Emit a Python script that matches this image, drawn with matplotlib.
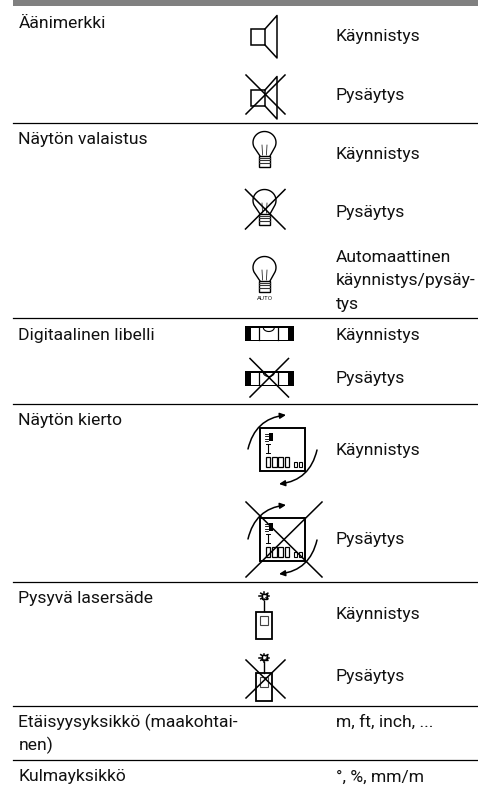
import numpy as np
import matplotlib
matplotlib.use('Agg')
import matplotlib.pyplot as plt
from matplotlib.patches import Rectangle, FancyArrowPatch

plt.rcParams['font.family'] = ['Roboto', 'DejaVu Sans']

left_labels = ['Äänimerkki', 'Näytön valaistus', 'Digitaalinen libelli', 'Näytön kierto',
               'Pysyvä lasersäde', 'Etäisyysyksikkö (maakohtai-', 'nen)', 'Kulmayksikkö']
left_y = [28, 144, 340, 425.5, 603, 727, 750, 781.5]

right_labels = ['Käynnistys', 'Pysäytys', 'Käynnistys', 'Pysäytys', 'Automaattinen',
                'käynnistys/pysäy-', 'tys', 'Käynnistys', 'Pysäytys', 'Käynnistys',
                'Pysäytys', 'Käynnistys', 'Pysäytys', 'm, ft, inch, ...', '°, %, mm/m']
right_y = [41.5, 100, 158.5, 216.5, 261.5, 285, 308.5, 340, 383, 455.5, 544, 619, 681, 727, 781.5]

rule_y = [123, 317.5, 404.3, 582.3, 706, 760]

fig = plt.figure(figsize=[4.78, 7.87], dpi=100)
ax = fig.add_axes([0, 0, 1, 1])
ax.set_xlim(0, 478)
ax.set_ylim(787, 0)
ax.axis('off')

ax.add_patch(Rectangle((13, 0), 465, 5.7, color='#808080', lw=0))
for y in rule_y:
    ax.plot([13, 478], [y, y], color='black', lw=0.9)

for s, y in zip(left_labels, left_y):
    ax.text(18.5, y, s, fontsize=12.6, va='baseline', color='#111111')
for s, y in zip(right_labels, right_y):
    ax.text(336, y, s, fontsize=12.6, va='baseline', color='#111111')


def cross(x0, y0, x1, y1):
    ax.plot([x0, x1], [y0, y1], color='black', lw=1.1)
    ax.plot([x0, x1], [y1, y0], color='black', lw=1.1)


def speaker(dy):
    ax.add_patch(Rectangle((251, 29 + dy), 14, 16, fill=False, ec='black', lw=1.1))
    ax.plot([265, 277, 277, 265], [29 + dy, 15.5 + dy, 58 + dy, 45 + dy], color='black', lw=1.1)


def bulb(dy):
    t = np.linspace(np.radians(205), np.radians(-25), 40)
    xb = 264.5 + 11.5 * np.cos(t)
    yb = 142.5 + dy - 11 * np.sin(t)
    xb = np.concatenate([[260], xb, [270]])
    yb = np.concatenate([[156 + dy], yb, [156 + dy]])
    ax.plot(xb, yb, color='black', lw=1.0)
    ax.plot([262, 262.5], [145 + dy, 155 + dy], color='black', lw=0.5)
    ax.plot([267, 266.5], [145 + dy, 155 + dy], color='black', lw=0.5)
    ax.add_patch(Rectangle((259.5, 156 + dy), 10.5, 11, fill=False, ec='black', lw=1.0))
    for k in [158, 160, 162.5]:
        ax.plot([259.5, 270], [k + dy, k + dy], color='#333333', lw=0.8)


def level(dy):
    ax.add_patch(Rectangle((245, 326 + dy), 49, 15, color='black', lw=0))
    ax.add_patch(Rectangle((251, 327.5 + dy), 37, 12, color='white', lw=0))
    ax.plot([259.5, 259.5], [327 + dy, 340 + dy], color='black', lw=0.9)
    ax.plot([278, 278], [327 + dy, 340 + dy], color='black', lw=0.9)
    t = np.linspace(0, np.pi, 20)
    ax.plot(268.8 + 5.5 * np.cos(t), 327.5 + dy + 4 * np.sin(t), color='black', lw=0.8)


def display(dy):
    ax.add_patch(Rectangle((260.5, 428 + dy), 45, 42.5, fill=False, ec='black', lw=1.4))
    ax.add_patch(Rectangle((269, 433 + dy), 4, 8, color='black', lw=0))
    for k in [433.5, 436, 438.5, 441]:
        ax.plot([265, 268.5], [k + dy, k + dy], color='black', lw=0.6)
    ax.plot([267.7, 267.7], [444 + dy, 453 + dy], color='black', lw=0.8)
    ax.plot([265.7, 269.7], [444 + dy, 444 + dy], color='black', lw=0.7)
    ax.plot([265.7, 269.7], [453 + dy, 453 + dy], color='black', lw=0.7)
    for x in [265.7, 272, 278.3, 284.6]:
        ax.add_patch(Rectangle((x, 456.5 + dy), 4.6, 10.5, fill=False, ec='black', lw=0.9))
    for x in [293.7, 298.7]:
        ax.add_patch(Rectangle((x, 461.5 + dy), 3, 5.5, fill=False, ec='black', lw=0.8))
    for p0, p1 in [((248, 449), (286, 415)), ((317, 450), (279, 484))]:
        ax.add_patch(FancyArrowPatch((p0[0], p0[1] + dy), (p1[0], p1[1] + dy), connectionstyle='arc3,rad=-0.35',
                                     arrowstyle='-|>,head_length=3.5,head_width=1.7', color='black', lw=1.1,
                                     shrinkA=0, shrinkB=0))


def laser(dy):
    xc, yc = 264.3, 596 + dy
    ax.add_patch(Rectangle((xc - 2.5, yc - 2.5), 5, 5, fill=False, ec='black', lw=1.0))
    for a in np.radians(np.arange(0, 360, 45)):
        ax.plot([xc + 2.5 * np.cos(a), xc + 5 * np.cos(a)], [yc + 2.5 * np.sin(a), yc + 4 * np.sin(a)],
                color='black', lw=1.1)
    ax.plot([264, 264], [600.5 + dy, 611 + dy], color='black', lw=1.0)
    ax.add_patch(Rectangle((256.5, 611.5 + dy), 15.5, 27.5, fill=False, ec='black', lw=1.3))
    ax.add_patch(Rectangle((260, 615.7 + dy), 8.3, 9.3, fill=False, ec='#444444', lw=0.8))


speaker(0)
speaker(61)
cross(246, 75, 285, 114)

bulb(0)
bulb(58)
cross(245.5, 189.5, 285, 229)
bulb(125)
ax.text(264.5, 299, 'AUTO', fontsize=4.5, ha='center', va='center', color='#222222')

level(0)
level(45)
cross(250, 358.5, 288.5, 397)

display(0)
display(90)
cross(246, 502, 322, 577)

laser(0)
laser(61.5)
cross(246, 660, 285, 698)

fig.savefig('out.png', dpi=100)
